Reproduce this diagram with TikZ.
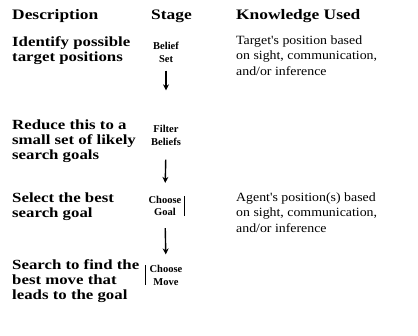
\documentclass[tikz,border=0pt]{standalone}
\usepackage{fontspec}
\setmainfont{Liberation Serif}
\newfontfamily\descfont[FakeStretch=1.2]{Liberation Serif}
\newfontfamily\knowfont[FakeStretch=1.1]{Liberation Serif}
\usetikzlibrary{arrows.meta}
\begin{document}
\begin{tikzpicture}[x=1pt,y=-1pt,
  hdr/.style={anchor=west,inner sep=0pt,font=\descfont\bfseries\fontsize{14.5}{15}\selectfont},
  desc/.style={anchor=west,align=left,inner sep=0pt,font=\descfont\bfseries\fontsize{14}{15}\selectfont},
  know/.style={anchor=west,align=left,inner sep=0pt,font=\knowfont\fontsize{12.6}{15.5}\selectfont},
  stagebox/.style={align=center,inner sep=0pt,font=\bfseries\fontsize{10.5}{12.5}\selectfont},
  arr/.style={-{Stealth[length=6pt,width=6pt]},line width=1.4pt},
  frag/.style={line width=0.8pt}]
\useasboundingbox (0,0) rectangle (418,335);
% headers
\node[hdr] (hdesc) at (12,16) {Description};
\node[hdr] (hstage) at (151,16) {Stage};
\node[hdr] (hknow) at (236,16) {Knowledge Used};
% description column
\node[desc] (d1) at (12,50.5) {Identify possible\\target positions};
\node[desc] (d2) at (12,141) {Reduce this to a\\small set of likely\\search goals};
\node[desc] (d3) at (12,206.5) {Select the best\\search goal};
\node[desc] (d4) at (12,281) {Search to find the\\best move that\\leads to the goal};
% stage column
\node[stagebox] (s1) at (166,52.5) {Belief\\Set};
\node[stagebox] (s2) at (166,135.5) {Filter\\Beliefs};
\node[stagebox] (s3) at (165,206) {Choose\\Goal};
\node[stagebox] (s4) at (166,275.5) {Choose\\Move};
% knowledge column
\node[know] (k1) at (236,55.5) {Target's position based\\on sight, communication,\\and/or inference};
\node[know] (k2) at (236,212.5) {Agent's position(s) based\\on sight, communication,\\and/or inference};
% arrows
\draw[arr,shorten <=8pt,shorten >=35pt] (s1.south) -- (s2.north);
\draw[arr,shorten <=14pt,shorten >=13pt] (s2.south) -- (s3.north);
\draw[arr,shorten <=12pt,shorten >=11pt] (s3.south) -- (s4.north);
% fragments of box outlines
\draw[frag] (s3.north east) ++(3,0) -- ++(0,20);
\draw[frag] (s4.north west) ++(-4,0) -- ++(0,20);
\end{tikzpicture}
\end{document}
